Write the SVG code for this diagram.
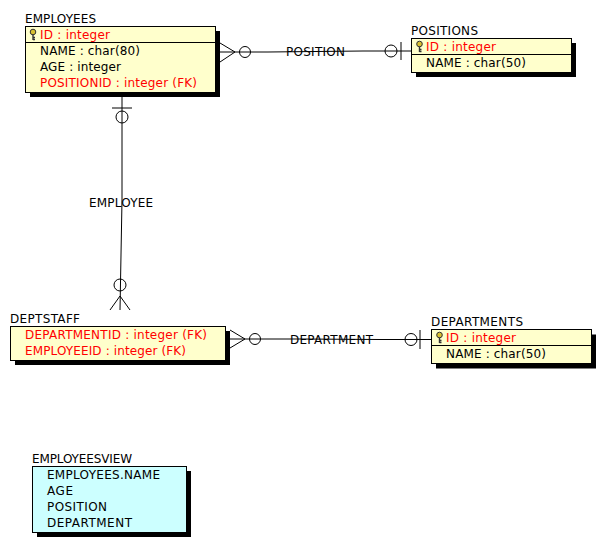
<svg xmlns="http://www.w3.org/2000/svg" width="606" height="548" viewBox="0 0 606 548">
<style>
text{font-family:"DejaVu Sans","Liberation Sans",sans-serif;font-size:12px;fill:#000}
.pk,.fk{fill:#f00}
.box{fill:#ffffcc;stroke:#000;stroke-width:1}
.view{fill:#ccffff;stroke:#000;stroke-width:1}
.shadow{fill:#000}
.div{stroke:#000;stroke-width:1}
.conn path,.conn line,.conn circle{fill:none;stroke:#000;stroke-width:1}
</style>
<defs>
<g id="key"><circle cx="0" cy="-2.500" r="2.800" fill="#d8c030" stroke="#333" stroke-width="1"/><path d="M0 0V5.500M0 3H2M0 5H2" stroke="#333" stroke-width="1.400" fill="none"/></g>
</defs>
<rect width="606" height="548" fill="#fff"/>
<g id="connectors" class="conn">
<path d="M220 43L235 52L220 62M220 52H268L363 51H411"/><circle cx="245" cy="52" r="5.500"/><circle cx="391" cy="51" r="6"/><line x1="401" y1="42" x2="401" y2="60"/>
<path d="M122 97V200L120 310M110 310L120 296L130 310"/><line x1="112" y1="108" x2="132" y2="108"/><circle cx="122" cy="117" r="6"/><circle cx="120" cy="285" r="6"/>
<path d="M230 330L245 339L230 348M230 339H300L380 339.500H431"/><circle cx="255" cy="339" r="5.500"/><circle cx="411" cy="339.500" r="6"/><line x1="420" y1="330" x2="420" y2="349"/>
</g>
<g id="conn-labels">
<text x="286" y="56" textLength="59">POSITION</text>
<text x="89" y="207" textLength="64">EMPLOYEE</text>
<text x="290" y="344" textLength="83">DEPARTMENT</text>
</g>
<g id="employees">
<text x="25" y="23" textLength="71">EMPLOYEES</text>
<rect class="shadow" x="30" y="31" width="190" height="66"/>
<rect class="box" x="25.500" y="26.500" width="190" height="66"/>
<line class="div" x1="26" y1="42.500" x2="215" y2="42.500"/>
<use href="#key" x="33" y="34.500"/>
<text class="pk" x="40" y="39" textLength="70">ID : integer</text>
<text x="40" y="55" textLength="100">NAME : char(80)</text>
<text x="40" y="71" textLength="81">AGE : integer</text>
<text class="fk" x="40" y="87" textLength="157">POSITIONID : integer (FK)</text>
</g>
<g id="positions">
<text x="411" y="35" textLength="67">POSITIONS</text>
<rect class="shadow" x="416" y="43" width="160" height="34"/>
<rect class="box" x="411.500" y="38.500" width="160" height="34"/>
<line class="div" x1="412" y1="54.500" x2="571" y2="54.500"/>
<use href="#key" x="419.500" y="46.500"/>
<text class="pk" x="426" y="51" textLength="70">ID : integer</text>
<text x="426" y="67" textLength="100">NAME : char(50)</text>
</g>
<g id="deptstaff">
<text x="10" y="323" textLength="70">DEPTSTAFF</text>
<rect class="shadow" x="15" y="331" width="215" height="34"/>
<rect class="box" x="10.500" y="326.500" width="215" height="34"/>
<text class="fk" x="25" y="339" textLength="182">DEPARTMENTID : integer (FK)</text>
<text class="fk" x="25" y="355" textLength="161">EMPLOYEEID : integer (FK)</text>
</g>
<g id="departments">
<text x="431" y="326" textLength="92">DEPARTMENTS</text>
<rect class="shadow" x="436" y="334.500" width="160" height="34"/>
<rect class="box" x="431.500" y="329.500" width="160" height="34"/>
<line class="div" x1="432" y1="345.500" x2="591" y2="345.500"/>
<use href="#key" x="439.500" y="337.500"/>
<text class="pk" x="446" y="342" textLength="70">ID : integer</text>
<text x="446" y="358" textLength="100">NAME : char(50)</text>
</g>
<g id="employeesview">
<text x="32" y="463" textLength="100">EMPLOYEESVIEW</text>
<rect class="shadow" x="37" y="471" width="154" height="66"/>
<rect class="view" x="32.500" y="466.500" width="154" height="66"/>
<text x="47" y="479" textLength="113">EMPLOYEES.NAME</text>
<text x="47" y="495" textLength="26">AGE</text>
<text x="47" y="511" textLength="60">POSITION</text>
<text x="47" y="527" textLength="85">DEPARTMENT</text>
</g>
</svg>
